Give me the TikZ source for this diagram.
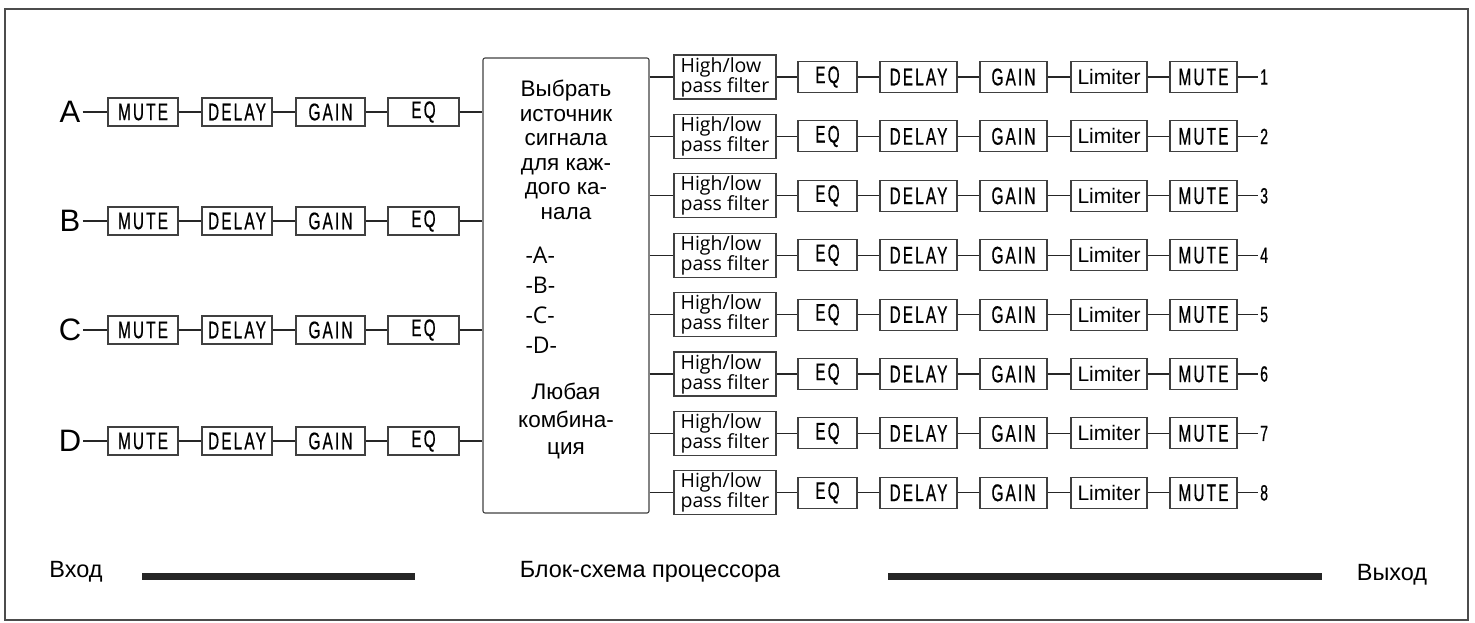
\documentclass[tikz,border=0pt]{standalone}
\usepackage{fontspec}
\setmainfont{Liberation Sans}
\newfontfamily\narrowfont[FakeStretch=0.64,LetterSpace=9,FakeBold=0.6]{Liberation Sans}
\newfontfamily\filterfont{Open Sans}

\tikzset{
  blk/.style={draw=black!75,line width=1.1pt,inner sep=0pt,font=\narrowfont\fontsize{24}{24}\selectfont},
  inblk/.style={blk,minimum height=28},
  outblk/.style={blk,minimum height=31},
  filt/.style={draw=black!75,line width=1.1pt,inner sep=0pt,minimum width=102,minimum height=44,
    align=left,font=\filterfont\fontsize{19.5}{20}\selectfont},
  wire/.style={line width=1.1pt,black!85},
}

\begin{document}
\begin{tikzpicture}[x=1pt,y=-1pt]
  \useasboundingbox (0,0) rectangle (1475,622);
  \draw[line width=2pt,black!70] (5,9) rectangle (1468,620);

  % source selector
  \node[draw=black!75,line width=1.1pt,rounded corners=2pt,minimum width=166,minimum height=455] (sel) at (566,285.5) {};
  \node[align=center,font=\fontsize{22.5}{24.5}\selectfont] (seltop) at (566,150)
    {Выбрать\\источник\\сигнала\\для каж-\\дого ка-\\нала};
  \node[anchor=west,align=left,font=\filterfont\fontsize{23}{30}\selectfont] (sellist) at (522,300)
    {-A-\\-B-\\-C-\\-D-};
  \node[align=center,font=\fontsize{22.5}{27.5}\selectfont] (selbot) at (566,421)
    {Любая\\комбина-\\ция};

  % inputs
  \foreach \n/\y in {A/112,B/221,C/330,D/441}{
    \node[font=\fontsize{31}{31}\selectfont,inner sep=2pt] (in\n) at (70,\y) {\n};
    \node[inblk,minimum width=70] (mute\n) at (143,\y) {MUTE};
    \node[inblk,minimum width=70] (delay\n) at (237,\y) {DELAY};
    \node[inblk,minimum width=69] (gain\n) at (330.5,\y) {GAIN};
    \node[inblk,minimum width=71] (eq\n) at (423.5,\y) {EQ};
    \draw[wire] (in\n)--(mute\n) (mute\n)--(delay\n) (delay\n)--(gain\n) (gain\n)--(eq\n)
      (eq\n.east)--(sel.west |- eq\n.east);
  }

  % outputs
  \foreach \i in {1,...,8}{
    \pgfmathsetmacro\y{77+59.4*(\i-1)}
    \node[filt] (hp\i) at (725,\y) {High/low\\pass filter};
    \node[outblk,minimum width=59] (eqo\i) at (827.5,\y) {EQ};
    \node[outblk,minimum width=77] (dlo\i) at (918.5,\y) {DELAY};
    \node[outblk,minimum width=67] (gno\i) at (1013.5,\y) {GAIN};
    \node[outblk,minimum width=76,font=\fontsize{21}{21}\selectfont] (lim\i) at (1109,\y) {Limiter};
    \node[outblk,minimum width=67] (mto\i) at (1203.5,\y) {MUTE};
    \node[anchor=west,inner sep=2pt,font=\narrowfont\fontsize{22}{22}\selectfont] (out\i) at (1258,\y) {\i};
    \draw[wire] (sel.east |- hp\i.west)--(hp\i) (hp\i)--(eqo\i) (eqo\i)--(dlo\i) (dlo\i)--(gno\i)
      (gno\i)--(lim\i) (lim\i)--(mto\i) (mto\i)--(out\i);
  }

  % caption
  \node[font=\fontsize{23.5}{23.5}\selectfont] (vhod) at (76,572) {Вход};
  \node[font=\fontsize{23.5}{23.5}\selectfont] (title) at (650,572) {Блок-схема процессора};
  \node[font=\fontsize{23.5}{23.5}\selectfont] (vyhod) at (1392,575) {Выход};
  \coordinate (barA) at (142,576);
  \coordinate (barB) at (415,576);
  \coordinate (barC) at (888,576);
  \coordinate (barD) at (1322,576);
  \draw[line width=7pt,black!85] (barA)--(barB) (barC)--(barD);
\end{tikzpicture}
\end{document}
